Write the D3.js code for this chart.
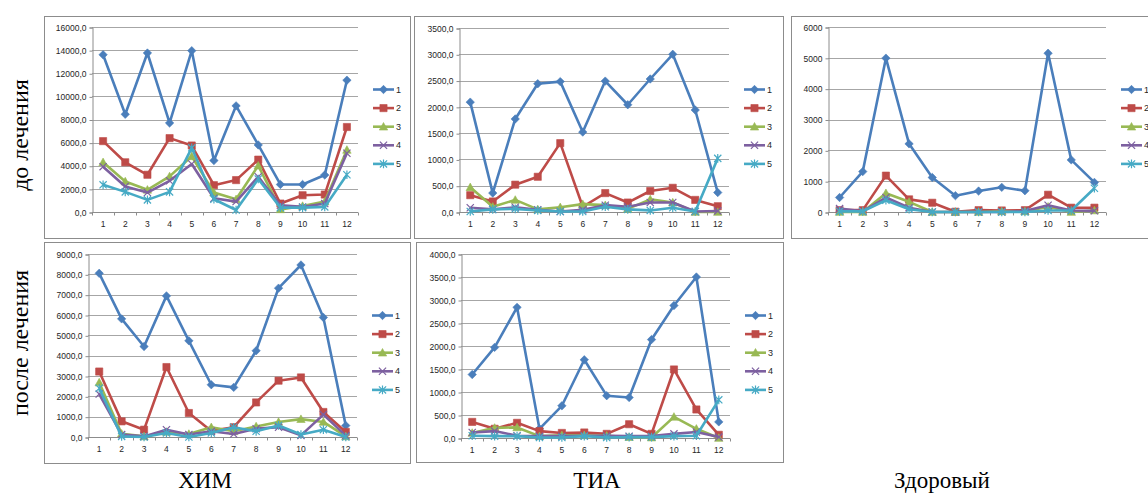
<!DOCTYPE html>
<html>
<head>
<meta charset="utf-8">
<script src="https://cdn.jsdelivr.net/npm/d3@7"></script>
<style>
body{margin:0;background:#fff;}
svg{display:block;}
.tick-label{font-family:"Liberation Sans",Arial,sans-serif;font-size:8.5px;fill:#262626;}
.side{font-family:"Liberation Serif","Times New Roman",serif;font-size:24px;fill:#000;}
.bottom{font-family:"Liberation Serif","Times New Roman",serif;font-size:23px;fill:#000;}
</style>
</head>
<body>
<svg id="charts"></svg>
<script>
// categories on the x axis and legend names
var categories = ["1","2","3","4","5","6","7","8","9","10","11","12"];
var seriesNames = ["1","2","3","4","5"];
var colors = ["#4a7ebb","#be4b48","#98b954","#7d60a0","#46aac5"];
var markers = ["diamond","square","triangle","x","star"];

// ХИМ до лечения
var chimBefore = [
    [13600,8450,13750,7700,13950,4450,9180,5800,2380,2380,3200,11400],
    [6130,4300,3220,6390,5750,2320,2760,4530,730,1450,1510,7350],
    [4300,2640,1920,3080,4820,1680,1100,4010,230,520,900,5370],
    [3920,2210,1680,2700,4150,1190,900,3050,580,440,730,5080],
    [2350,1740,1050,1740,5550,1100,170,2850,380,380,440,3220]
];
// ТИА до лечения
var tiaBefore = [
    [2090,360,1770,2440,2480,1520,2490,2040,2530,3000,1940,370],
    [320,200,520,670,1310,100,360,180,400,460,230,110],
    [470,100,230,50,90,150,130,60,240,180,0,0],
    [80,50,90,40,10,40,130,100,180,180,10,20],
    [10,50,60,30,10,10,100,50,30,80,10,1020]
];
// Здоровый
var healthyBefore = [
    [470,1310,4990,2210,1120,530,680,800,690,5150,1690,960],
    [60,60,1180,410,300,10,60,50,60,560,140,140],
    [0,0,610,330,0,0,0,20,20,170,0,50],
    [110,20,470,140,0,0,0,0,30,220,50,40],
    [20,20,380,90,0,0,0,0,0,50,50,770]
];
// ХИМ после лечения
var chimAfter = [
    [8050,5810,4450,6940,4730,2570,2440,4240,7320,8460,5880,560],
    [3220,770,360,3440,1180,300,480,1700,2770,2930,1230,250],
    [2680,160,30,250,150,480,280,520,740,880,740,30],
    [2110,120,30,360,120,280,150,410,480,80,1100,70],
    [2400,30,0,200,0,200,480,280,570,120,360,0]
];
// ТИА после лечения
var tiaAfter = [
    [1380,1970,2840,200,700,1700,920,880,2140,2880,3500,350],
    [350,200,330,150,110,120,90,300,90,1490,620,70],
    [110,220,230,40,60,60,50,20,10,460,200,0],
    [120,150,50,40,40,50,50,40,40,90,130,20],
    [50,40,40,10,10,40,10,20,20,40,50,830]
];

var ticksChimBefore = [0,2000,4000,6000,8000,10000,12000,14000,16000];
var ticksTiaBefore = [0,500,1000,1500,2000,2500,3000,3500];
var ticksHealthy = [0,1000,2000,3000,4000,5000,6000];
var ticksChimAfter = [0,1000,2000,3000,4000,5000,6000,7000,8000,9000];
var ticksTiaAfter = [0,500,1000,1500,2000,2500,3000,3500,4000];

var rowLabels = ["до лечения","после лечения"];
var colLabels = ["ХИМ","ТИА","Здоровый"];

var commaFmt = function(v){ return d3.format(".1f")(v).replace(".",","); };
var intFmt = d3.format("d");

var markerPath = function(type,r){
    if(type=="diamond") return "M0,"+(-r)+"L"+r+",0L0,"+r+"L"+(-r)+",0Z";
    if(type=="square") return "M"+(-r)+","+(-r)+"H"+r+"V"+r+"H"+(-r)+"Z";
    if(type=="triangle") return "M0,"+(-r)+"L"+r+","+(r*0.8)+"L"+(-r)+","+(r*0.8)+"Z";
    if(type=="x") return "M"+(-r)+","+(-r)+"L"+r+","+r+"M"+(-r)+","+r+"L"+r+","+(-r);
    // star = x + vertical bar
    return "M"+(-r)+","+(-r)+"L"+r+","+r+"M"+(-r)+","+r+"L"+r+","+(-r)+"M0,"+(-r*1.2)+"V"+(r*1.2);
};
var markerSize = [4.2,3.6,4.2,3.6,3.6];

var drawMarker = function(sel,i){
    var t = markers[i];
    var filled = (t=="diamond"||t=="square"||t=="triangle");
    sel.append("path")
        .attr("d",markerPath(t,markerSize[i]))
        .attr("fill",filled?colors[i]:"none")
        .attr("stroke",colors[i])
        .attr("stroke-width",filled?0.6:1.2);
};

var drawPanel = function(svg,p)
{
    // frame
    svg.append("rect")
        .attr("x",p.frame[0]+0.5).attr("y",p.frame[1]+0.5)
        .attr("width",p.frame[2]).attr("height",p.frame[3])
        .attr("fill","#fff").attr("stroke","#8c8c8c").attr("stroke-width",1);

    var xScale = d3.scaleBand()
        .domain(categories)
        .range([p.left,p.right]);
    var yScale = d3.scaleLinear()
        .domain([0,d3.max(p.ticks)])
        .range([p.bottom,p.top]);

    var g = svg.append("g").classed("panel",true);

    // gridlines
    g.selectAll("line.grid")
        .data(p.ticks)
        .enter()
        .append("line")
        .classed("grid",true)
        .attr("x1",p.left).attr("x2",p.right)
        .attr("y1",function(d){return Math.round(yScale(d))+0.5;})
        .attr("y2",function(d){return Math.round(yScale(d))+0.5;})
        .attr("stroke","#a6a6a6");

    // y axis
    var yAxis = d3.axisLeft(yScale)
        .tickValues(p.ticks)
        .tickFormat(p.fmt)
        .tickSize(3)
        .tickPadding(3);
    var ya = g.append("g")
        .attr("transform","translate("+(p.left+0.5)+",0.5)")
        .call(yAxis);
    ya.select(".domain").attr("stroke","#8c8c8c");
    ya.selectAll(".tick line").attr("stroke","#8c8c8c");
    ya.selectAll(".tick text").attr("class","tick-label").attr("font-size",null).attr("font-family",null);

    // x axis, tick marks at band edges
    var xa = g.append("g")
        .attr("transform","translate(0,"+(Math.round(p.bottom)+0.5)+")");
    xa.append("line")
        .attr("x1",p.left).attr("x2",p.right)
        .attr("stroke","#8c8c8c");
    var edges = categories.map(function(c){return xScale(c);}).concat([p.right]);
    xa.selectAll("line.edge")
        .data(edges)
        .enter()
        .append("line")
        .classed("edge",true)
        .attr("x1",function(d){return Math.round(d)+0.5;})
        .attr("x2",function(d){return Math.round(d)+0.5;})
        .attr("y1",0).attr("y2",3)
        .attr("stroke","#8c8c8c");
    xa.selectAll("text")
        .data(categories)
        .enter()
        .append("text")
        .attr("class","tick-label")
        .attr("text-anchor","middle")
        .attr("x",function(d){return xScale(d)+xScale.bandwidth()/2;})
        .attr("y",14)
        .text(function(d){return d;});

    var lineGenerator = d3.line()
        .x(function(d,i){return xScale(categories[i])+xScale.bandwidth()/2;})
        .y(function(d){return yScale(d);});

    var series = g.selectAll("g.series")
        .data(p.data)
        .enter()
        .append("g")
        .classed("series",true);

    series.append("path")
        .attr("d",lineGenerator)
        .attr("fill","none")
        .attr("stroke",function(d,i){return colors[i];})
        .attr("stroke-width",2.6)
        .attr("stroke-linejoin","round");

    series.each(function(vals,i){
        var s = d3.select(this);
        vals.forEach(function(v,j){
            var m = s.append("g")
                .attr("transform","translate("+(xScale(categories[j])+xScale.bandwidth()/2)+","+yScale(v)+")");
            drawMarker(m,i);
        });
    });

    // legend
    var legend = g.append("g")
        .attr("transform","translate("+(p.right+15)+","+(p.frame[1]+73.5)+")");
    var items = legend.selectAll("g")
        .data(seriesNames)
        .enter()
        .append("g")
        .attr("transform",function(d,i){return "translate(0,"+(i*18.6)+")";});
    items.append("line")
        .attr("x1",0).attr("x2",21)
        .attr("stroke",function(d,i){return colors[i];})
        .attr("stroke-width",2.6);
    items.each(function(d,i){
        var m = d3.select(this).append("g").attr("transform","translate(10.5,0)");
        drawMarker(m,i);
    });
    items.append("text")
        .attr("class","tick-label")
        .attr("x",23)
        .attr("y",3)
        .style("font-size","9px")
        .text(function(d){return d;});
};

var initCharts = function(target)
{
    var screen = {width:1148,height:494};
    var svg = d3.select(target)
        .attr("width",screen.width)
        .attr("height",screen.height);

    svg.append("rect").attr("width",screen.width).attr("height",screen.height).attr("fill","#fff");

    var panels = [
        {data:chimBefore,ticks:ticksChimBefore,fmt:commaFmt,frame:[44,16,366,222],left:92,right:358,top:27,bottom:212},
        {data:tiaBefore,ticks:ticksTiaBefore,fmt:commaFmt,frame:[414,16,369,222],left:459,right:729,top:28,bottom:212},
        {data:healthyBefore,ticks:ticksHealthy,fmt:intFmt,frame:[791,16,380,222],left:828,right:1106,top:27,bottom:212},
        {data:chimAfter,ticks:ticksChimAfter,fmt:commaFmt,frame:[44,242,366,221],left:88,right:357,top:254,bottom:437},
        {data:tiaAfter,ticks:ticksTiaAfter,fmt:commaFmt,frame:[416,242,367,220],left:461,right:730,top:254,bottom:438}
    ];
    panels.forEach(function(p){ drawPanel(svg,p); });

    // row labels, rotated
    var rowY = [135,343];
    rowLabels.forEach(function(t,i){
        svg.append("text")
            .attr("class","side")
            .attr("text-anchor","middle")
            .attr("transform","translate(28,"+rowY[i]+") rotate(-90)")
            .text(t);
    });
    // column labels
    var colX = [205,597,942];
    colLabels.forEach(function(t,i){
        svg.append("text")
            .attr("class","bottom")
            .attr("text-anchor","middle")
            .attr("x",colX[i])
            .attr("y",488)
            .text(t);
    });
};

initCharts("#charts");
</script>
</body>
</html>
